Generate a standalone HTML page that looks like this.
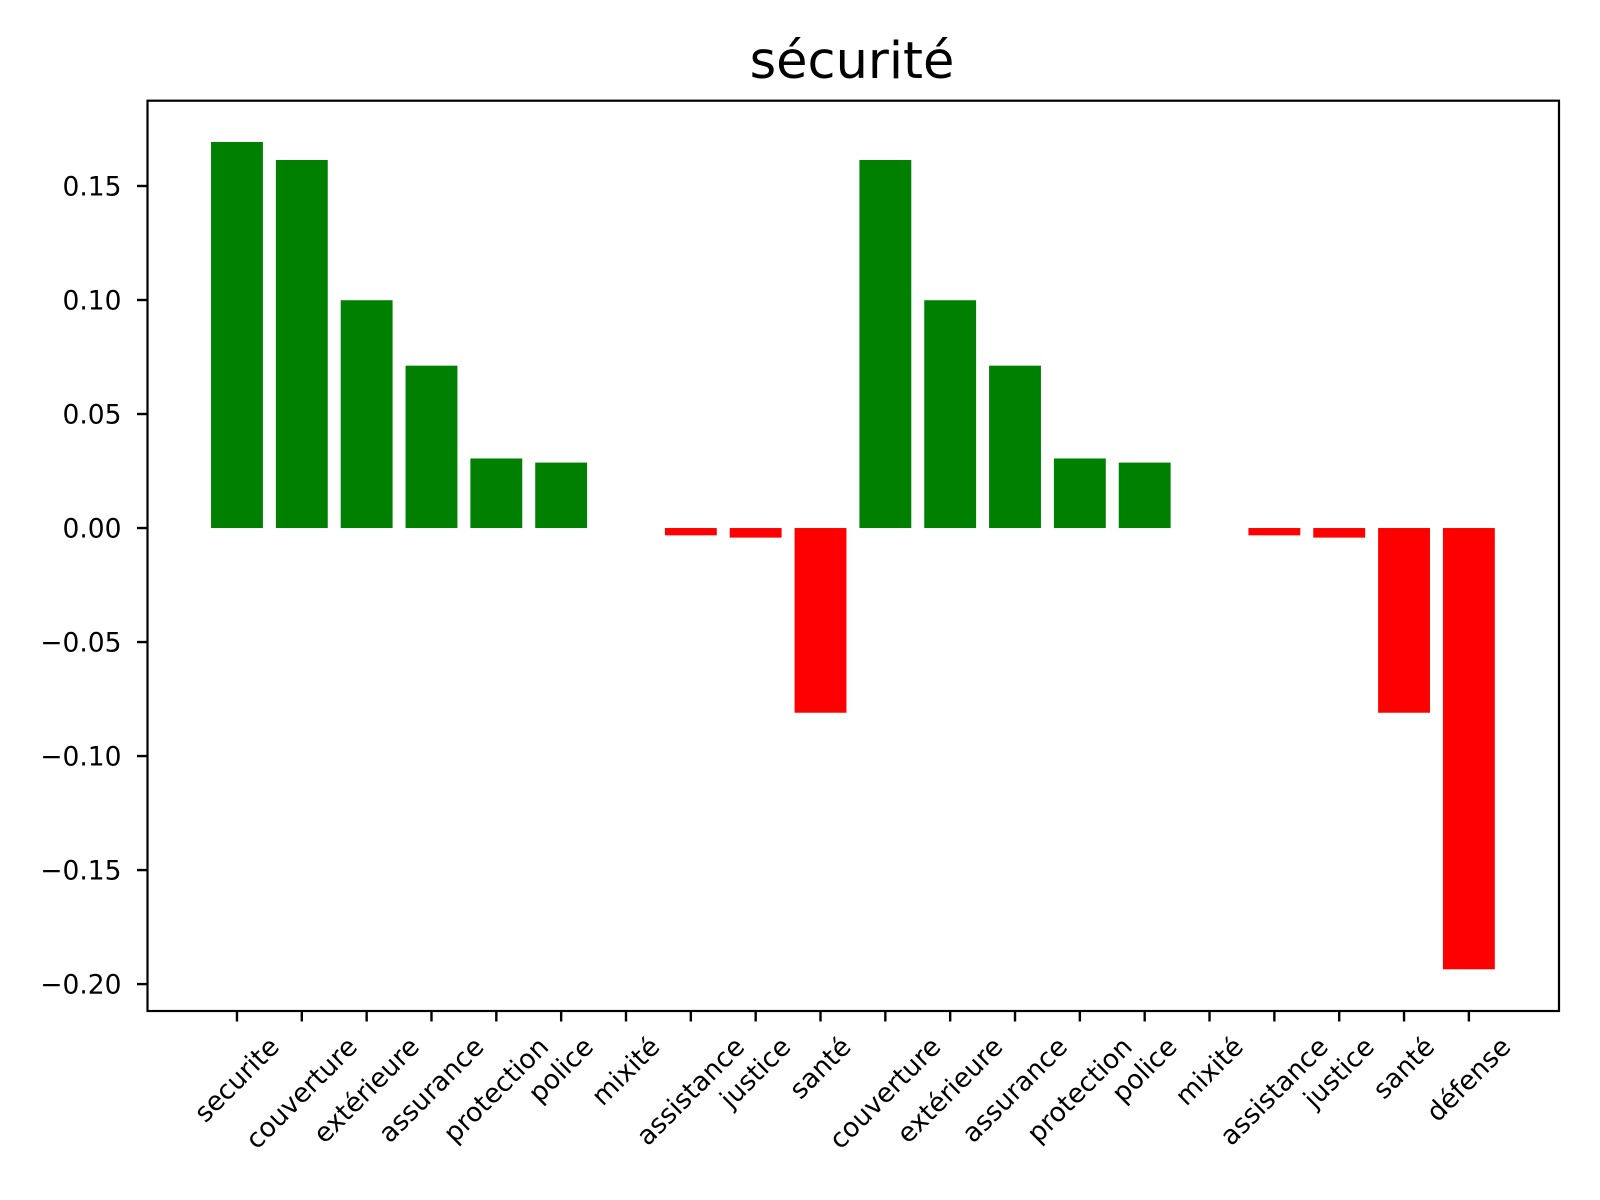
<!DOCTYPE html>
<html><head><meta charset="utf-8"><style>
html,body{margin:0;padding:0;background:#fff;}
svg{display:block;font-family:"DejaVu Sans","Liberation Sans",sans-serif;}
</style></head><body>
<svg id="chart" width="1600" height="1200" viewBox="0 0 1600 1200" xmlns="http://www.w3.org/2000/svg">
<rect width="1600" height="1200" fill="#fff"/>
<text x="852" y="78" font-size="51" text-anchor="middle">sécurité</text>
<g id="bars"></g><g id="yticks"></g><g id="xticks"></g>
<rect x="147.5" y="100.7" width="1411.5" height="910.3" fill="none" stroke="#000" stroke-width="2.2"/>
</svg>
<script>
const categories = ["securite","couverture","extérieure","assurance","protection","police","mixité","assistance","justice","santé","couverture","extérieure","assurance","protection","police","mixité","assistance","justice","santé","défense"];
const values = [0.1693,0.1614,0.0999,0.0712,0.0305,0.0287,0,-0.0032,-0.0042,-0.081,0.1614,0.0999,0.0712,0.0305,0.0287,0,-0.0032,-0.0042,-0.081,-0.1935];
const yTicks = [0.15,0.10,0.05,0.00,-0.05,-0.10,-0.15,-0.20];
const yTickLabels = ["0.15","0.10","0.05","0.00","−0.05","−0.10","−0.15","−0.20"];

const L=147.5,R=1559,T=100.7,B=1011;
const xmin=-1.38,xmax=20.39,ymin=-0.2118,ymax=0.1874;
const X=v=>L+(v-xmin)/(xmax-xmin)*(R-L);
const Y=v=>T+(ymax-v)/(ymax-ymin)*(B-T);
const NS="http://www.w3.org/2000/svg";
const mk=(t,a,p)=>{const e=document.createElementNS(NS,t);for(const k in a)e.setAttribute(k,a[k]);p.appendChild(e);return e;};
const bars=document.getElementById('bars'),yt=document.getElementById('yticks'),xt=document.getElementById('xticks');
const bw=X(0.4)-X(-0.4);
values.forEach((v,i)=>{
  const y0=Y(0),y1=Y(v);
  const r=mk('rect',{x:X(i)-bw/2,y:Math.min(y0,y1),width:bw,height:Math.abs(y1-y0),fill:v>=0?'#008000':'#ff0000'},bars);
  
  
});
yTicks.forEach((v,i)=>{
  const y=Y(v);
  mk('line',{x1:L-10.5,x2:L,y1:y,y2:y,stroke:'#000','stroke-width':2.4},yt);
  const t=mk('text',{x:L-26,y:y+9.5,'font-size':26.5,'text-anchor':'end'},yt);
  t.textContent=yTickLabels[i];
  
  
});
categories.forEach((c,i)=>{
  const x=X(i);
  mk('line',{x1:x,x2:x,y1:B,y2:B+10.5,stroke:'#000','stroke-width':2.4},xt);
  const t=mk('text',{'font-size':26.5,'text-anchor':'middle','dominant-baseline':'central'},xt);
  t.textContent=c;
  
  
  const w=t.getComputedTextLength(),h=26.5;
  const half=(w+h)/Math.SQRT2/2;
  const cy=B+22+half;
  t.setAttribute('x',x);t.setAttribute('y',cy);
  t.setAttribute('transform','rotate(-45 '+x+' '+cy+')');
});
</script>
</body></html>
